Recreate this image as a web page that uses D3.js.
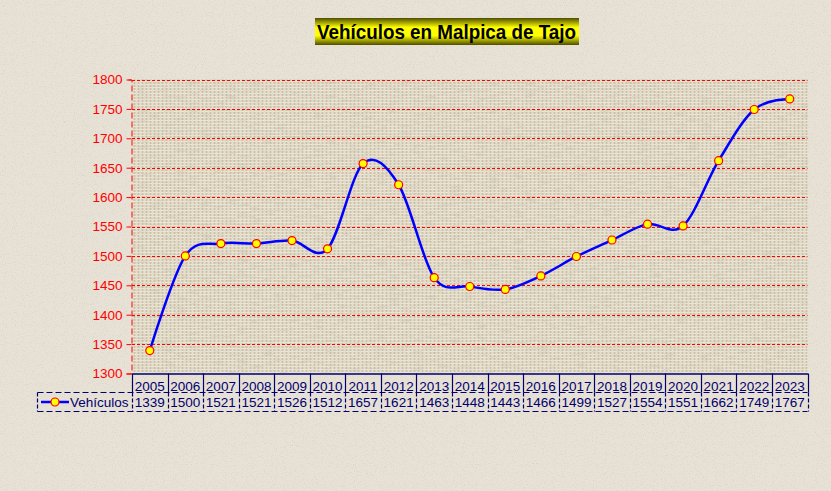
<!DOCTYPE html>
<html><head><meta charset="utf-8">
<script src="https://cdn.jsdelivr.net/npm/d3@7"></script>
<style>html,body{margin:0;padding:0;background:#e7e1d5;}svg{display:block;}</style>
</head><body>
<script>
const years = ["2005","2006","2007","2008","2009","2010","2011","2012","2013","2014","2015","2016","2017","2018","2019","2020","2021","2022","2023"];
const vehiculos = [1339,1500,1521,1521,1526,1512,1657,1621,1463,1448,1443,1466,1499,1527,1554,1551,1662,1749,1767];
const yTicks = [1300,1350,1400,1450,1500,1550,1600,1650,1700,1750,1800];
const seriesName = "Vehículos";
const titleText = "Vehículos en Malpica de Tajo";

const W = 831, H = 491;
const svg = d3.select("body").append("svg").attr("width", W).attr("height", H);
const defs = svg.append("defs");

// background speckle texture
const fb = defs.append("filter").attr("id","bgnoise").attr("x",0).attr("y",0).attr("width","100%").attr("height","100%");
fb.append("feTurbulence").attr("type","fractalNoise").attr("baseFrequency","0.9").attr("numOctaves",2).attr("seed",3).attr("result","n");
fb.append("feColorMatrix").attr("type","matrix").attr("values","0 0 0 0 0.45  0 0 0 0 0.42  0 0 0 0 0.36  0 0 0 -2.2 1.05").attr("in","n");
svg.append("rect").attr("width",W).attr("height",H).attr("fill","#e8e2d6");
svg.append("rect").attr("width",W).attr("height",H).attr("filter","url(#bgnoise)").attr("opacity",0.35);

// canvas texture pattern for plot area
const pat = defs.append("pattern").attr("id","canvas").attr("patternUnits","userSpaceOnUse").attr("width",4).attr("height",3);
pat.append("rect").attr("width",4).attr("height",3).attr("fill","#dcd3bf");
pat.append("rect").attr("width",4).attr("height",1).attr("fill","#ebe5d5");
pat.append("rect").attr("width",1).attr("height",3).attr("fill","#e7e0cf");
pat.append("rect").attr("x",2).attr("y",1).attr("width",1).attr("height",2).attr("fill","#cbc1aa");

const fp = defs.append("filter").attr("id","plotnoise").attr("x",0).attr("y",0).attr("width","100%").attr("height","100%");
fp.append("feTurbulence").attr("type","fractalNoise").attr("baseFrequency","0.08 0.5").attr("numOctaves",2).attr("seed",7).attr("result","n");
fp.append("feColorMatrix").attr("type","matrix").attr("values","0 0 0 0 0.5  0 0 0 0 0.46  0 0 0 0 0.36  0 0 0 -3 1.6").attr("in","n");

const x = d3.scaleBand().domain(years).range([132, 807.5]);
const y = d3.scaleLinear().domain([1300,1800]).range([373.5, 79.5]);
const xl = x.range()[0], xr = x.range()[1];

svg.append("rect").attr("x",xl).attr("y",y(1800)).attr("width",xr-xl).attr("height",y(1300)-y(1800)).attr("fill","url(#canvas)");
svg.append("rect").attr("x",xl).attr("y",y(1800)).attr("width",xr-xl).attr("height",y(1300)-y(1800)).attr("filter","url(#plotnoise)").attr("opacity",0.3);

// grid lines
svg.append("g").selectAll("line").data(yTicks.filter(d=>d>1300)).join("line")
  .attr("x1",xl).attr("x2",xr).attr("y1",d=>Math.round(y(d))+0.5).attr("y2",d=>Math.round(y(d))+0.5)
  .attr("stroke","#ff0000").attr("stroke-width",1).attr("stroke-dasharray","3,2");

// y axis
const yAxis = d3.axisLeft(y).tickValues(yTicks).tickSize(5).tickPadding(4).tickFormat(d3.format("d"));
const gy = svg.append("g").attr("transform",`translate(${xl-0.5},0)`).call(yAxis);
gy.select(".domain").attr("stroke","#ff0000").attr("stroke-dasharray","6,3");
gy.selectAll(".tick line").attr("stroke","#ff0000");
gy.selectAll(".tick text").attr("fill","#ff0000").attr("font-family","'Liberation Sans', Arial, sans-serif").attr("font-size","13.5px");

// line
const line = d3.line().x((d,i)=>x(years[i])+x.bandwidth()/2).y(d=>y(d)).curve(d3.curveCardinal.tension(0));
svg.append("path").datum(vehiculos).attr("d",line).attr("fill","none").attr("stroke","#0000ff").attr("stroke-width",2.5);
svg.append("g").selectAll("circle").data(vehiculos).join("circle")
  .attr("cx",(d,i)=>x(years[i])+x.bandwidth()/2).attr("cy",d=>y(d)).attr("r",4)
  .attr("fill","#ffff00").attr("stroke","#ff0000").attr("stroke-width",1.2);

// data table
const navy = "#000070";
const tTop = 373.5, tMid = 392.5, tBot = 411.5;
const tg = svg.append("g");
const xAxis = d3.axisBottom(x).tickSize(0).tickFormat(d=>d);
const gx = svg.append("g").attr("transform",`translate(0,${tTop})`).call(xAxis);
gx.select(".domain").attr("stroke",navy).attr("stroke-width",1.5);
gx.selectAll(".tick text").attr("fill",navy).attr("font-family","'Liberation Sans', Arial, sans-serif").attr("font-size","13.5px").attr("dy","1.1em");
const edges = years.map(d=>x(d)).concat([xr]);
tg.selectAll("line.vtop").data(edges).join("line").attr("class","vtop")
  .attr("x1",d=>Math.round(d)+0.5).attr("x2",d=>Math.round(d)+0.5).attr("y1",tTop).attr("y2",tMid)
  .attr("stroke",navy).attr("stroke-width",1.2);
tg.selectAll("line.vbot").data(edges).join("line").attr("class","vbot")
  .attr("x1",d=>Math.round(d)+0.5).attr("x2",d=>Math.round(d)+0.5).attr("y1",tMid).attr("y2",tBot)
  .attr("stroke",navy).attr("stroke-width",1.2).attr("stroke-dasharray","4,2");
const legL = 37.5;
tg.append("line").attr("x1",legL).attr("x2",xr).attr("y1",tMid).attr("y2",tMid).attr("stroke",navy).attr("stroke-width",1.2).attr("stroke-dasharray","6,3");
tg.append("line").attr("x1",legL).attr("x2",xr).attr("y1",tBot).attr("y2",tBot).attr("stroke",navy).attr("stroke-width",1.2).attr("stroke-dasharray","6,3");
tg.append("line").attr("x1",legL).attr("x2",legL).attr("y1",tMid).attr("y2",tBot).attr("stroke",navy).attr("stroke-width",1.2).attr("stroke-dasharray","4,2");
tg.selectAll("text.val").data(vehiculos).join("text").attr("class","val")
  .attr("x",(d,i)=>x(years[i])+x.bandwidth()/2).attr("y",tBot-4.5).attr("text-anchor","middle")
  .attr("fill",navy).attr("font-family","'Liberation Sans', Arial, sans-serif").attr("font-size","13.5px").text(d=>d);
// legend
tg.append("line").attr("x1",41).attr("x2",69).attr("y1",402).attr("y2",402).attr("stroke","#0000ff").attr("stroke-width",2.5);
tg.append("circle").attr("cx",55).attr("cy",402).attr("r",4).attr("fill","#ffff00").attr("stroke","#ff0000").attr("stroke-width",1.2);
tg.append("text").attr("x",70).attr("y",tBot-4.5).attr("fill",navy).attr("font-family","'Liberation Sans', Arial, sans-serif").attr("font-size","13.5px").text(seriesName);

// title
const tgrad = defs.append("linearGradient").attr("id","tgrad").attr("x1",0).attr("y1",0).attr("x2",0).attr("y2",1);
[[0,"#4d4d00"],[0.12,"#8a8a00"],[0.35,"#ffff00"],[0.65,"#ffff00"],[0.88,"#8a8a00"],[1,"#4d4d00"]].forEach(s=>tgrad.append("stop").attr("offset",s[0]).attr("stop-color",s[1]));
svg.append("rect").attr("x",315).attr("y",18).attr("width",264).attr("height",27).attr("fill","url(#tgrad)");
svg.append("text").attr("x",317).attr("y",39).attr("textLength",259).attr("lengthAdjust","spacingAndGlyphs")
  .attr("font-family","'Liberation Sans', Arial, sans-serif").attr("font-weight","bold").attr("font-size","21px").attr("fill","#000").text(titleText);
</script>
</body></html>
